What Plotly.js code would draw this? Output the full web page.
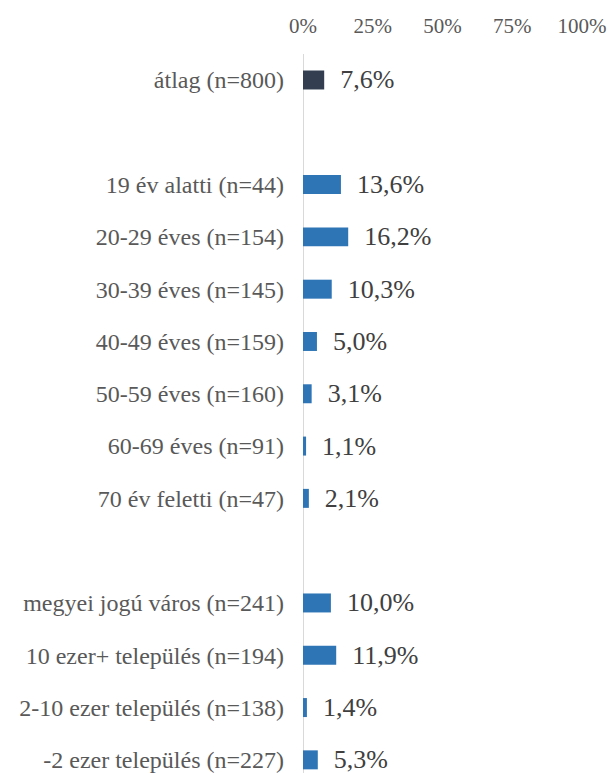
<!DOCTYPE html>
<html>
<head>
<meta charset="utf-8">
<script src="https://cdn.plot.ly/plotly-3.0.1.min.js"></script>
<style>html,body{margin:0;padding:0;background:#fff;overflow:hidden;}#chart{width:615px;height:773px;overflow:hidden;}</style>
</head>
<body>
<div id="chart"></div>
<script>
const categories = [
  'átlag (n=800)', null,
  '19 év alatti (n=44)', '20-29 éves (n=154)', '30-39 éves (n=145)', '40-49 éves (n=159)',
  '50-59 éves (n=160)', '60-69 éves (n=91)', '70 év feletti (n=47)', null,
  'megyei jogú város (n=241)', '10 ezer+ település (n=194)', '2-10 ezer település (n=138)', '-2 ezer település (n=227)'
];
const values = [7.6, null, 13.6, 16.2, 10.3, 5.0, 3.1, 1.1, 2.1, null, 10.0, 11.9, 1.4, 5.3];
const tickValues = [0, 25, 50, 75, 100];
const tickLabels = ['0%', '25%', '50%', '75%', '100%'];

const FONT = 'Liberation Serif, Times New Roman, serif';
const pos = categories.map((c, i) => i);
const colors = categories.map((c, i) => i === 0 ? '#333F50' : '#2E75B6');
const yTickVals = pos.filter(i => categories[i] !== null);
const yTickText = yTickVals.map(i => categories[i]);

const trace = {
  type: 'bar',
  orientation: 'h',
  y: pos,
  x: values,
  marker: {color: colors},
  texttemplate: '\u00a0\u00a0%{x:.1f}%',
  textposition: 'outside',
  constraintext: 'none',
  cliponaxis: false,
  textfont: {family: FONT, size: 26, color: '#404040'},
  hoverinfo: 'none'
};

const layout = {
  width: 615, height: 786,
  margin: {l: 303, r: 33, t: 54, b: 0},
  paper_bgcolor: '#fff', plot_bgcolor: '#fff',
  separators: ', ',
  showlegend: false,
  bargap: 0.637,
  font: {family: FONT},
  xaxis: {
    side: 'top', range: [0, 100], tickvals: tickValues, ticktext: tickLabels,
    showgrid: false, zeroline: true, zerolinecolor: '#d9d9d9', zerolinewidth: 1,
    showline: false, ticks: '', ticklabelstandoff: 16,
    tickfont: {family: FONT, size: 21, color: '#595959'}
  },
  yaxis: {
    range: [13.5, -0.497], tickvals: yTickVals, ticktext: yTickText,
    showgrid: false, zeroline: false, showline: false, ticks: '', ticklabelstandoff: 18,
    tickfont: {family: FONT, size: 24, color: '#595959'}
  }
};

Plotly.newPlot('chart', [trace], layout, {displayModeBar: false, staticPlot: true});
</script>
</body>
</html>
